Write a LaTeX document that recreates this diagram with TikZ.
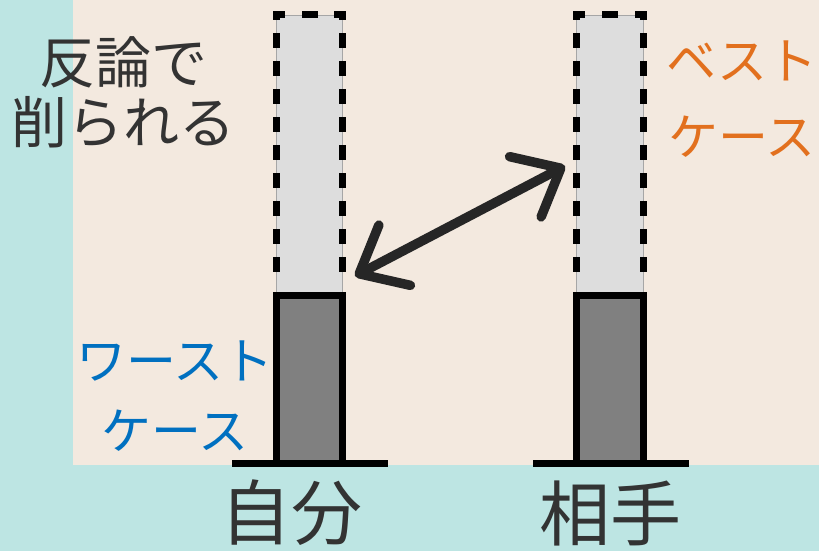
\documentclass[tikz,border=0pt]{standalone}
\usepackage{fontspec}
\newfontfamily\jp{Noto Sans CJK JP}
\usetikzlibrary{arrows.meta}
\definecolor{bgteal}{HTML}{BDE5E3}
\definecolor{bgbeige}{HTML}{F3E9DF}
\definecolor{txtgray}{HTML}{333333}
\definecolor{txtorange}{HTML}{E2701E}
\definecolor{txtblue}{HTML}{0070C0}
\definecolor{lightbar}{HTML}{DDDDDD}
\definecolor{darkbar}{HTML}{808080}
\definecolor{arrowcol}{HTML}{262626}
\tikzset{
  dashpiece/.style={fill=black},
  potentialedge/.style={draw=gray!70, line width=0.8pt},
  actual/.style={fill=darkbar, draw=black, line width=7pt},
  ground/.style={draw=black, line width=7pt},
  lbl/.style={font=\jp, inner sep=0pt, anchor=center},
  bigarrow/.style={draw=arrowcol, line width=9.5pt, line cap=round,
    {Straight Barb[length=40pt,width=68pt,round]}-{Straight Barb[length=40pt,width=68pt,round]}}
}
\newcommand{\potentialbar}[2]{% #1 = left x (centre of line), #2 = right x
  \path[fill=lightbar] (#1,15) rectangle (#2,295);
  \draw[potentialedge] (#1,15) rectangle (#2,295);
  % top edge: corner, middle, corner
  \fill[dashpiece] ({#1-3.5},11.5) rectangle ({#1+8.5},18.5);
  \fill[dashpiece] ({(#1+#2)/2-8},11.5) rectangle ({(#1+#2)/2+8},18.5);
  \fill[dashpiece] ({#2-8.5},11.5) rectangle ({#2+3.5},18.5);
  % side edges
  \foreach \xx in {#1,#2}{
    \fill[dashpiece] ({\xx-3.5},11.5) rectangle ({\xx+3.5},20);
    \foreach \yy in {33,61,...,257}{
      \fill[dashpiece] ({\xx-3.5},\yy) rectangle ({\xx+3.5},{\yy+15});
    }
  }
}
\begin{document}
\begin{tikzpicture}[x=1pt,y=-1pt]
\useasboundingbox (0,0) rectangle (819,551);
\fill[bgteal] (0,0) rectangle (819,551);
\fill[bgbeige] (73,0) rectangle (819,465);
% left bar
\potentialbar{276.5}{342.5}
\draw[actual] (276.5,295) rectangle (342.5,463);
\draw[ground] (232,463.5) -- (388,463.5);
% right bar
\potentialbar{576.5}{643.5}
\draw[actual] (576.5,295) rectangle (643.5,463);
\draw[ground] (533,463.5) -- (689,463.5);
% arrow
\coordinate (mine) at (355,276);
\coordinate (theirs) at (565,166);
\draw[bigarrow] (mine) -- (theirs);
% labels
\node[lbl, text=txtgray, font=\jp\fontsize{56}{60}\selectfont] (ronpa1) at (123,62) {反論で};
\node[lbl, text=txtgray, font=\jp\fontsize{56}{60}\selectfont] (ronpa2) at (124,122) {削られる};
\node[lbl, text=txtorange, font=\jp\fontsize{50}{54}\selectfont] (best1) at (742,61) {ベスト};
\node[lbl, text=txtorange, font=\jp\fontsize{50}{54}\selectfont] (best2) at (742,137) {ケース};
\node[lbl, text=txtblue, font=\jp\fontsize{50}{54}\selectfont] (worst1) at (175,361) {ワースト};
\node[lbl, text=txtblue, font=\jp\fontsize{50}{54}\selectfont] (worst2) at (175,431) {ケース};
\node[lbl, text=txtgray, font=\jp\fontsize{71}{75}\selectfont] (self) at (291,513) {自分};
\node[lbl, text=txtgray, font=\jp\fontsize{71}{75}\selectfont] (other) at (610,513) {相手};
\end{tikzpicture}
\end{document}
